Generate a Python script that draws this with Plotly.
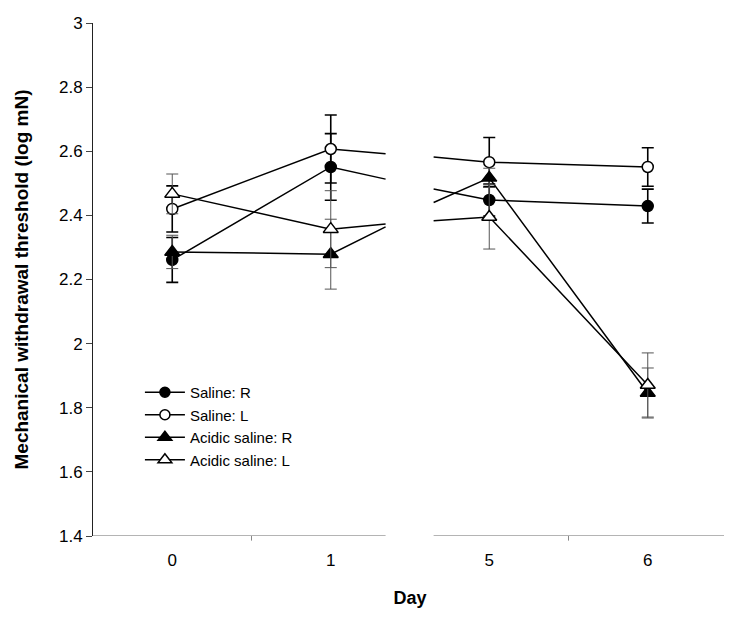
import plotly.graph_objects as go

# ---- data ----
day_labels = ["0", "1", "5", "6"]
series_names = ["Saline: R", "Saline: L", "Acidic saline: R", "Acidic saline: L"]

saline_r = [2.261, 2.551, 2.448, 2.429]
saline_l = [2.420, 2.607, 2.566, 2.551]
acidic_r = [2.286, 2.279, 2.517, 1.846]
acidic_l = [2.467, 2.357, 2.395, 1.871]

saline_r_err = [0.070, 0.104, 0.050, 0.053]
saline_l_err = [0.072, 0.106, 0.077, 0.060]
acidic_r_err = [0.052, 0.109, 0.030, 0.078]
acidic_l_err = [0.062, 0.120, 0.100, 0.100]

# values where the segments run into the axis break (after day 1, before day 5)
stub_after_day1 = [2.513, 2.592, 2.364, 2.373]
stub_before_day5 = [2.482, 2.582, 2.440, 2.383]

y_ticks = [1.4, 1.6, 1.8, 2.0, 2.2, 2.4, 2.6, 2.8, 3.0]
y_tick_text = ["1.4", "1.6", "1.8", "2", "2.2", "2.4", "2.6", "2.8", "3"]

# ---- layout constants ----
FONT = "Arial, Liberation Sans, sans-serif"
x_idx = list(range(len(day_labels)))
BREAK_LO, BREAK_HI = 1.346, 1.649

styles = [
    dict(symbol="circle", fill="black", size=11, errcol="black", errw=1.6),
    dict(symbol="circle", fill="white", size=11, errcol="black", errw=1.6),
    dict(symbol="triangle-up", fill="black", size=13, errcol="#555555", errw=1.0),
    dict(symbol="triangle-up", fill="white", size=13, errcol="#555555", errw=1.0),
]
values = [saline_r, saline_l, acidic_r, acidic_l]
errors = [saline_r_err, saline_l_err, acidic_r_err, acidic_l_err]

fig = go.Figure()

for i, name in enumerate(series_names):
    v = values[i]
    fig.add_trace(go.Scatter(
        x=[x_idx[0], x_idx[1], BREAK_LO, None, BREAK_HI, x_idx[2], x_idx[3]],
        y=[v[0], v[1], stub_after_day1[i], None, stub_before_day5[i], v[2], v[3]],
        mode="lines", line=dict(color="black", width=1.5),
        showlegend=False, hoverinfo="skip", connectgaps=False,
    ))

for i, name in enumerate(series_names):
    st = styles[i]
    fig.add_trace(go.Scatter(
        x=x_idx, y=values[i], name=name, mode="markers",
        marker=dict(symbol=st["symbol"], size=st["size"],
                    color=st["fill"], line=dict(color="black", width=1.5)),
        error_y=dict(type="data", array=errors[i], visible=True,
                     color=st["errcol"], thickness=st["errw"], width=6),
        showlegend=False,
    ))

# legend-only traces (line through marker)
for i, name in enumerate(series_names):
    st = styles[i]
    fig.add_trace(go.Scatter(
        x=[None], y=[None], name=name, mode="lines+markers",
        line=dict(color="black", width=1.5),
        marker=dict(symbol=st["symbol"], size=st["size"] - 1,
                    color=st["fill"], line=dict(color="black", width=1.5)),
    ))

# broken x axis line
for x0, x1 in [(-0.5, BREAK_LO), (BREAK_HI, 3.5)]:
    fig.add_shape(type="line", xref="x", yref="y", x0=x0, x1=x1, y0=1.4, y1=1.4,
                  line=dict(color="#b4b4b4", width=2.2), layer="below")
for xt in [0.5, 2.5]:
    fig.add_shape(type="line", xref="x", yref="paper", x0=xt, x1=xt, y0=0, y1=-0.009,
                  line=dict(color="#888888", width=1))

fig.update_layout(
    width=724, height=611,
    margin=dict(l=85, r=5, t=15, b=83),
    paper_bgcolor="white", plot_bgcolor="white",
    font=dict(family=FONT, size=17, color="black"),
    legend=dict(x=0.074, y=0.312, xanchor="left", yanchor="top",
                font=dict(family=FONT, size=15), bgcolor="rgba(0,0,0,0)",
                tracegroupgap=0, itemwidth=40),
    xaxis=dict(range=[-0.5, 3.5], tickvals=x_idx, ticktext=day_labels,
               showline=False, showgrid=False, zeroline=False, ticks="",
               ticklabelstandoff=12,
               title=dict(text="<b>Day</b>", font=dict(size=18), standoff=22)),
    yaxis=dict(range=[1.4, 3.0], tickvals=y_ticks, ticktext=y_tick_text,
               showline=True, linecolor="#222222", linewidth=1,
               ticks="outside", ticklen=6, tickcolor="#444444",
               showgrid=False, zeroline=False,
               title=dict(text="<b>Mechanical withdrawal threshold (log mN)</b>",
                          font=dict(size=19), standoff=25)),
)

fig.write_html("out.html")
